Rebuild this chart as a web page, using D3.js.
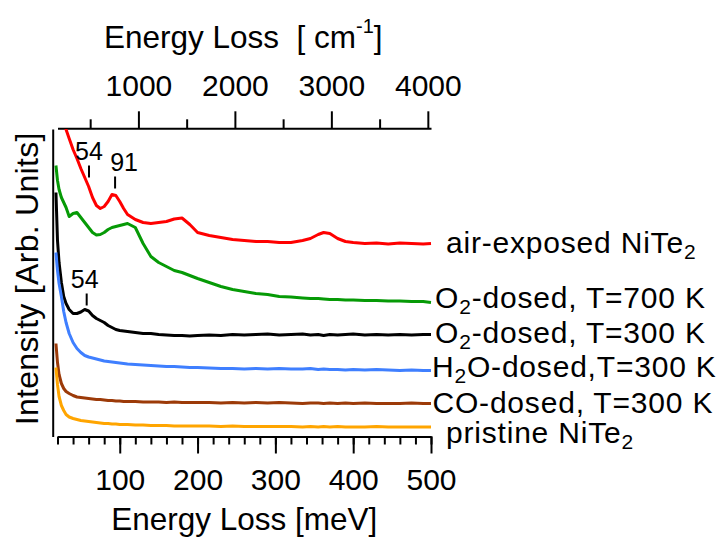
<!DOCTYPE html>
<html>
<head>
<meta charset="utf-8">
<script src="https://cdn.jsdelivr.net/npm/d3@7"></script>
<style>
  body { margin: 0; background: #fff; }
  text { font-family: "Liberation Sans", Arial, sans-serif; fill: #000; }
</style>
</head>
<body>
<div id="chart"></div>
<script>
// shared energy grid (meV)
const energies = [18, 20, 22, 25, 28, 31, 35, 40, 45, 50, 55, 60, 65, 70, 75, 80, 85, 90, 95, 100, 105, 110,
    120, 130, 140, 150, 160, 170, 180, 190, 200, 215, 230, 245, 260, 275, 290, 305, 320, 335,
    345, 355, 362, 370, 380, 390, 400, 415, 430, 445, 460, 475, 490, 500];

// intensities (arb. units, curves offset as in the figure)
const airExposed = [35.6, 33.8, 33.0, 32.1, 31.4, 30.7, 29.8, 28.7, 27.8, 26.8, 25.9, 25.0, 23.9, 23.1, 22.8, 23.0, 23.5, 24.2, 24.1, 23.5, 22.8, 22.2,
    21.7, 21.4, 21.3, 21.4, 21.5, 21.75, 21.85, 21.2, 20.4, 20.1, 19.9, 19.7, 19.6, 19.5, 19.5, 19.4, 19.4, 19.6,
    19.8, 20.2, 20.4, 20.3, 19.8, 19.5, 19.4, 19.3, 19.35, 19.25, 19.35, 19.3, 19.25, 19.3];
const o2Dosed700 = [27.1, 25.6, 24.7, 23.9, 23.4, 22.9, 22.0, 22.3, 22.4, 21.9, 21.4, 20.9, 20.4, 20.15, 20.2, 20.4, 20.7, 20.9, 21.0, 21.1, 21.2, 21.3,
    20.9, 19.3, 18.0, 17.4, 17.0, 16.6, 16.4, 16.1, 15.8, 15.4, 15.0, 14.7, 14.5, 14.3, 14.2, 14.0, 13.95, 13.85,
    13.8, 13.8, 13.75, 13.7, 13.7, 13.65, 13.65, 13.6, 13.6, 13.55, 13.55, 13.5, 13.5, 13.4];
const o2Dosed300 = [24.4, 19.6, 17.4, 15.4, 14.0, 13.3, 12.7, 12.3, 12.3, 12.45, 12.7, 12.55, 12.1, 11.8, 11.6, 11.4, 11.1, 10.9, 10.7, 10.6, 10.55, 10.5,
    10.4, 10.3, 10.3, 10.2, 10.15, 10.1, 10.1, 10.05, 10.1, 10.15, 10.1, 10.2, 10.15, 10.2, 10.25, 10.15, 10.2, 10.25,
    10.15, 10.2, 10.1, 10.2, 10.15, 10.2, 10.25, 10.15, 10.2, 10.15, 10.2, 10.15, 10.2, 10.2];
const h2oDosed = [18.4, 16.6, 15.3, 14.0, 12.5, 11.4, 10.3, 9.4, 8.8, 8.4, 8.1, 7.95, 7.85, 7.75, 7.65, 7.55, 7.5, 7.45, 7.4, 7.35, 7.3, 7.25,
    7.2, 7.15, 7.1, 7.05, 7.0, 7.0, 6.95, 6.9, 6.9, 6.85, 6.8, 6.8, 6.75, 6.8, 6.75, 6.8, 6.75, 6.75,
    6.8, 6.7, 6.75, 6.7, 6.7, 6.65, 6.7, 6.65, 6.7, 6.65, 6.6, 6.65, 6.6, 6.6];
const coDosed = [9.3, 7.4, 6.2, 5.3, 4.8, 4.5, 4.3, 4.1, 3.95, 3.9, 3.85, 3.8, 3.75, 3.7, 3.7, 3.65, 3.6, 3.6, 3.55, 3.55, 3.5, 3.5,
    3.5, 3.45, 3.45, 3.45, 3.4, 3.45, 3.4, 3.4, 3.4, 3.4, 3.35, 3.4, 3.35, 3.4, 3.35, 3.4, 3.35, 3.3,
    3.35, 3.35, 3.3, 3.35, 3.3, 3.35, 3.3, 3.35, 3.3, 3.3, 3.3, 3.35, 3.3, 3.3];
const pristine = [6.9, 5.2, 4.0, 3.1, 2.6, 2.2, 1.95, 1.8, 1.7, 1.6, 1.55, 1.5, 1.45, 1.4, 1.35, 1.3, 1.3, 1.25, 1.25, 1.2, 1.2, 1.2,
    1.15, 1.15, 1.1, 1.1, 1.1, 1.05, 1.05, 1.05, 1.05, 1.05, 1.0, 1.05, 1.0, 1.0, 1.0, 1.0, 1.0, 0.95,
    1.0, 0.95, 1.0, 0.95, 1.0, 0.95, 0.95, 0.95, 1.0, 0.95, 0.95, 0.95, 0.95, 0.95];

const seriesNames = ["air-exposed NiTe_2", "O_2-dosed, T=700 K", "O_2-dosed, T=300 K",
    "H_2O-dosed,T=300 K", "CO-dosed, T=300 K", "pristine NiTe_2"];
const seriesValues = [airExposed, o2Dosed700, o2Dosed300, h2oDosed, coDosed, pristine];
const seriesColors = ["#ff0000", "#069a06", "#000000", "#3f7fff", "#9c3a08", "#ffa500"];

const bottomMajorTicks = [100, 200, 300, 400, 500];
const bottomMinorTicks = d3.range(20, 501, 20);
const topMajorTicks = [1000, 2000, 3000, 4000];
const topMinorTicks = [500, 1500, 2500, 3500];

// peak markers: label, curve index, energy (meV), level of tick bottom (arb. units)
const peakLabels = ["54", "91", "54"];
const peakSeries = [0, 0, 2];
const peakEnergies = [60.5, 94, 57.5];
const peakLevels = [25.9, 24.8, 13.1];

const meVToCm = 8.0655;

// layout
const W = 721, H = 538;
const plot = {left: 57.5, right: 431, top: 129, bottom: 436.5, axisX: 52.7};
const labelOffsets = [[15, 9], [4, 5], [4, 8], [1, 6], [1.5, 9], [15, 16]];
const peakTextDx = [0, 9, -2];

const svg = d3.select("#chart").append("svg")
    .attr("width", W)
    .attr("height", H)
    .style("background", "#fff");

const x = d3.scaleLinear().domain([20, 500]).range([plot.left, plot.right]);
const xTop = d3.scaleLinear().domain([20 * meVToCm, 500 * meVToCm]).range([plot.left, plot.right]);
const y = d3.scaleLinear().domain([0, 30.75]).range([plot.bottom, plot.top]);

function styleAxis(g) {
    g.selectAll("path, line").attr("stroke", "#000").attr("stroke-width", 2);
    g.selectAll("text").attr("font-size", 30).attr("fill", "#000")
        .style("font-family", "'Liberation Sans', Arial, sans-serif");
}

// bottom axis
svg.append("g")
    .attr("transform", `translate(0,${plot.bottom})`)
    .call(d3.axisBottom(x).tickValues(bottomMinorTicks).tickSize(8).tickSizeOuter(0).tickFormat(""))
    .call(styleAxis);
svg.append("g")
    .attr("transform", `translate(0,${plot.bottom})`)
    .call(d3.axisBottom(x).tickValues(bottomMajorTicks).tickSize(17).tickSizeOuter(0))
    .call(g => g.select(".domain").remove())
    .call(styleAxis)
    .call(g => g.selectAll("text").attr("y", 53.5).attr("dy", null));

// top axis (cm^-1)
svg.append("g")
    .attr("transform", `translate(0,${plot.top - 0.7})`)
    .call(d3.axisTop(xTop).tickValues(topMinorTicks).tickSize(9).tickSizeOuter(0).tickFormat(""))
    .call(styleAxis);
svg.append("g")
    .attr("transform", `translate(0,${plot.top - 0.7})`)
    .call(d3.axisTop(xTop).tickValues(topMajorTicks).tickSize(17).tickSizeOuter(0).tickFormat(d3.format("d")))
    .call(g => g.select(".domain").remove())
    .call(styleAxis)
    .call(g => g.selectAll("text").attr("y", -32).attr("dy", null));

// left axis: plain line
svg.append("g")
    .attr("transform", `translate(${plot.axisX},0)`)
    .call(d3.axisLeft(y).tickValues([]).tickSizeOuter(0))
    .call(styleAxis);

// curves
svg.append("clipPath").attr("id", "plotClip")
    .append("rect")
    .attr("x", plot.axisX)
    .attr("y", plot.top)
    .attr("width", plot.right - plot.axisX + 4)
    .attr("height", plot.bottom - plot.top);

const line = d3.line()
    .x(d => x(d[0]))
    .y(d => y(d[1]));

const curves = svg.append("g").attr("clip-path", "url(#plotClip)");
seriesValues.forEach((vals, i) => {
    curves.append("path")
        .datum(energies.map((e, j) => [e, vals[j]]))
        .attr("fill", "none")
        .attr("stroke", seriesColors[i])
        .attr("stroke-width", 3)
        .attr("stroke-linejoin", "round")
        .attr("d", line);
});

// text with subscripts written as _2
function richText(sel, str, subSize, shift) {
    const parts = str.split(/_(\d)/);
    let shifted = false;
    parts.forEach((p, i) => {
        if (p === "") return;
        const t = sel.append("tspan").text(p);
        if (i % 2 === 1) {
            t.attr("font-size", subSize).attr("dy", shift);
            shifted = true;
        } else if (shifted) {
            t.attr("dy", -shift);
            shifted = false;
        }
    });
}

// labels at the end of each curve
seriesNames.forEach((name, i) => {
    const vals = seriesValues[i];
    const t = svg.append("text")
        .attr("x", x(energies[energies.length - 1]) + labelOffsets[i][0])
        .attr("y", y(vals[vals.length - 1]) + labelOffsets[i][1])
        .attr("font-size", 30)
        .attr("letter-spacing", 0.8);
    richText(t, name, 21, 6);
});

// peak markers
peakLabels.forEach((lab, i) => {
    const px = x(peakEnergies[i]);
    const py = y(peakLevels[i]);
    svg.append("line")
        .attr("x1", px).attr("x2", px)
        .attr("y1", py - 12).attr("y2", py)
        .attr("stroke", "#000").attr("stroke-width", 2);
    svg.append("text")
        .attr("x", px + peakTextDx[i])
        .attr("y", py - 18)
        .attr("text-anchor", "middle")
        .attr("font-size", 25)
        .text(lab);
});

// axis titles
svg.append("text")
    .attr("x", (plot.left + plot.right) / 2)
    .attr("y", 530)
    .attr("text-anchor", "middle")
    .attr("font-size", 31.5)
    .text("Energy Loss [meV]");

const topTitle = svg.append("text")
    .attr("x", (plot.left + plot.right) / 2 - 1)
    .attr("y", 48)
    .attr("text-anchor", "middle")
    .attr("font-size", 31.5)
    .style("white-space", "pre");
topTitle.append("tspan").text("Energy Loss  [ cm");
topTitle.append("tspan").attr("font-size", 20).attr("dy", -15).text("-1");
topTitle.append("tspan").attr("dy", 15).text("]");

svg.append("text")
    .attr("transform", `translate(38,${(plot.top + plot.bottom) / 2 - 4}) rotate(-90)`)
    .attr("text-anchor", "middle")
    .attr("font-size", 32)
    .attr("letter-spacing", 0.3)
    .text("Intensity [Arb. Units]");
</script>
</body>
</html>
